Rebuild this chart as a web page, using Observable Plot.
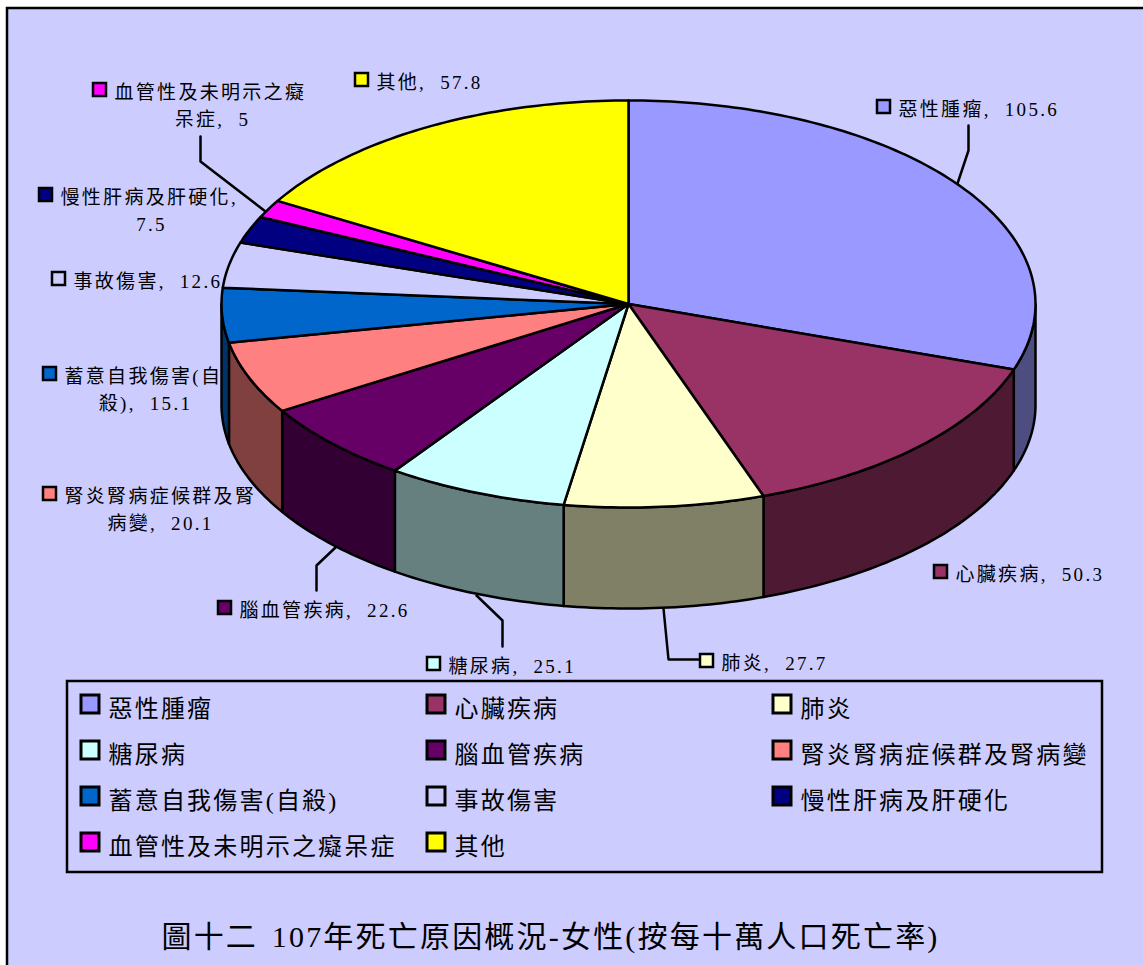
<!DOCTYPE html>
<html lang="zh-Hant">
<head>
<meta charset="utf-8">
<script src="https://cdn.jsdelivr.net/npm/d3@7"></script>
<script src="https://cdn.jsdelivr.net/npm/@observablehq/plot@0.6"></script>
<style>
html,body{margin:0;padding:0;background:#fff;overflow:hidden}
svg{display:block}
</style>
</head>
<body>
<div id="chart"></div>
<script>
const causes = ["惡性腫瘤","心臟疾病","肺炎","糖尿病","腦血管疾病","腎炎腎病症候群及腎病變","蓄意自我傷害(自殺)","事故傷害","慢性肝病及肝硬化","血管性及未明示之癡呆症","其他"];
const rates = [105.6,50.3,27.7,25.1,22.6,20.1,15.1,12.6,7.5,5,57.8];
const topColors = ["#9999FF","#993366","#FFFFCC","#CCFFFF","#660066","#FF8080","#0066CC","#CCCCFF","#000080","#FF00FF","#FFFF00"];
const sideColors = ["#4D4D80","#4D1933","#808066","#668080","#330033","#804040","#003366","#666680","#000040","#800080","#808000"];
const titleText = "圖十二 107年死亡原因概況-女性(按每十萬人口死亡率)";

// data-label text, one row per printed line
const labelLines = [
  ["惡性腫瘤, 105.6"],["心臟疾病, 50.3"],["肺炎, 27.7"],["糖尿病, 25.1"],["腦血管疾病, 22.6"],
  ["腎炎腎病症候群及腎","病變, 20.1"],["蓄意自我傷害(自","殺), 15.1"],["事故傷害, 12.6"],
  ["慢性肝病及肝硬化,","7.5"],["血管性及未明示之癡","呆症, 5"],["其他, 57.8"]
];
// layout, kept apart from the data: swatch left/top of each data label, and centre of its wrapped line
const labelSwatchX = [877,934,700,427,218,43,43,52,39,93,355];
const labelSwatchY = [100,565,654,657,601,487,367,272,188,83,73];
const wrapCentreX  = [0,0,0,0,0,160,145,0,151,212,0];
const leaderPaths = [
  [[968,125],[968,150],[957,183]],
  [[316,590],[316,565],[335,547]],
  [[502,646],[502,620],[476,595]],
  [[698,659],[668,659],[663,608]],
  [[200,136],[200,161],[265,211]]
];
const cx=628, cy=303.5, rx=407, ry=203.5, depth=101;

const total = d3.sum(rates);
const cum = d3.cumsum(rates);
const ang = i => (i<0?0:cum[i])/total*360;
const px = a => cx+rx*Math.sin(a*Math.PI/180);
const py = a => cy-ry*Math.cos(a*Math.PI/180);
const arc = (a,b) => { const n=Math.max(2,Math.ceil(b-a)); return d3.range(n+1).map(k=>a+(b-a)*k/n); };

const wedges=[], walls=[];
causes.forEach((c,i)=>{
  const a=ang(i-1), b=ang(i);
  wedges.push({id:c,color:topColors[i],x:cx,y:cy});
  arc(a,b).forEach(t=>wedges.push({id:c,color:topColors[i],x:px(t),y:py(t)}));
  const lo=Math.max(a,90), hi=Math.min(b,270);
  if(hi>lo){
    const ts=arc(lo,hi);
    ts.forEach(t=>walls.push({id:c,color:sideColors[i],x:px(t),y:py(t)}));
    ts.slice().reverse().forEach(t=>walls.push({id:c,color:sideColors[i],x:px(t),y:py(t)+depth}));
  }
});

const leaders = leaderPaths.flatMap((p,i)=>p.map(([x,y])=>({id:"l"+i,x,y})));
const SW=13;
const labelSw = causes.map((c,i)=>({x1:labelSwatchX[i],x2:labelSwatchX[i]+SW,y1:labelSwatchY[i],y2:labelSwatchY[i]+SW,color:topColors[i]}));
const firstRows = labelLines.map((lines,i)=>({t:lines[0],x:labelSwatchX[i]+21,y:labelSwatchY[i]+9}));
const wrapRows = labelLines.flatMap((lines,i)=>lines.slice(1).map(t=>({t,x:wrapCentreX[i],y:labelSwatchY[i]+36})));

const legendColX=[81,427,773], legendRowY=[695,741,787,833], LSW=18;
const legend = causes.map((c,i)=>{const col=i%3,row=Math.floor(i/3);return {c,color:topColors[i],x:legendColX[col],y:legendRowY[row]};});

const spaced = (ls,ws) => function(index,scales,values,dims,ctx,next){const g=next(index,scales,values,dims,ctx);g.style.letterSpacing=ls;g.style.wordSpacing=ws;return g;};
const fontStack = '"Liberation Serif","Noto Sans CJK TC",serif';
const plot = Plot.plot({
  width:1143,height:965,margin:0,style:{background:"#fff",fontFamily:fontStack},
  x:{domain:[0,1143],range:[0,1143],axis:null},
  y:{domain:[0,965],range:[0,965],axis:null},
  color:{type:"identity"},
  marks:[
    Plot.rect([{x1:7,x2:1170,y1:8,y2:990}],{x1:"x1",x2:"x2",y1:"y1",y2:"y2",fill:"#CCCCFF",stroke:"#000",strokeWidth:2.5}),
    Plot.line(leaders,{x:"x",y:"y",z:"id",stroke:"#000",strokeWidth:2.5}),
    Plot.line(walls,{x:"x",y:"y",z:"id",fill:"color",stroke:"#000",strokeWidth:2.5,curve:"linear-closed",strokeLinejoin:"round"}),
    Plot.line(wedges,{x:"x",y:"y",z:"id",fill:"color",stroke:"#000",strokeWidth:2.5,curve:"linear-closed",strokeLinejoin:"round"}),
    Plot.rect(labelSw,{x1:"x1",x2:"x2",y1:"y1",y2:"y2",fill:"color",stroke:"#000",strokeWidth:2.5}),
    Plot.text(firstRows,{x:"x",y:"y",text:"t",textAnchor:"start",fontSize:19,fill:"#000",lineAnchor:"middle",fontWeight:400,render:spaced("2.3px","7px")}),
    Plot.text(wrapRows,{x:"x",y:"y",text:"t",textAnchor:"middle",fontSize:19,fill:"#000",lineAnchor:"middle",fontWeight:400,render:spaced("2.3px","7px")}),
    Plot.rect([{x1:67,x2:1102,y1:681,y2:872}],{x1:"x1",x2:"x2",y1:"y1",y2:"y2",fill:"none",stroke:"#000",strokeWidth:2.5}),
    Plot.rect(legend,{x1:d=>d.x,x2:d=>d.x+LSW,y1:d=>d.y,y2:d=>d.y+LSW,fill:"color",stroke:"#000",strokeWidth:3}),
    Plot.text(legend,{x:d=>d.x+27,y:d=>d.y+14,text:"c",textAnchor:"start",fontSize:24,fill:"#000",lineAnchor:"middle",fontWeight:400,render:spaced("2.2px","0")}),
    Plot.text([titleText],{x:()=>550,y:()=>937,text:d=>d,textAnchor:"middle",fontSize:30,fill:"#000",lineAnchor:"middle",fontWeight:400,render:spaced("2.2px","4px")})
  ]
});
document.getElementById("chart").append(plot);
</script>
</body>
</html>
